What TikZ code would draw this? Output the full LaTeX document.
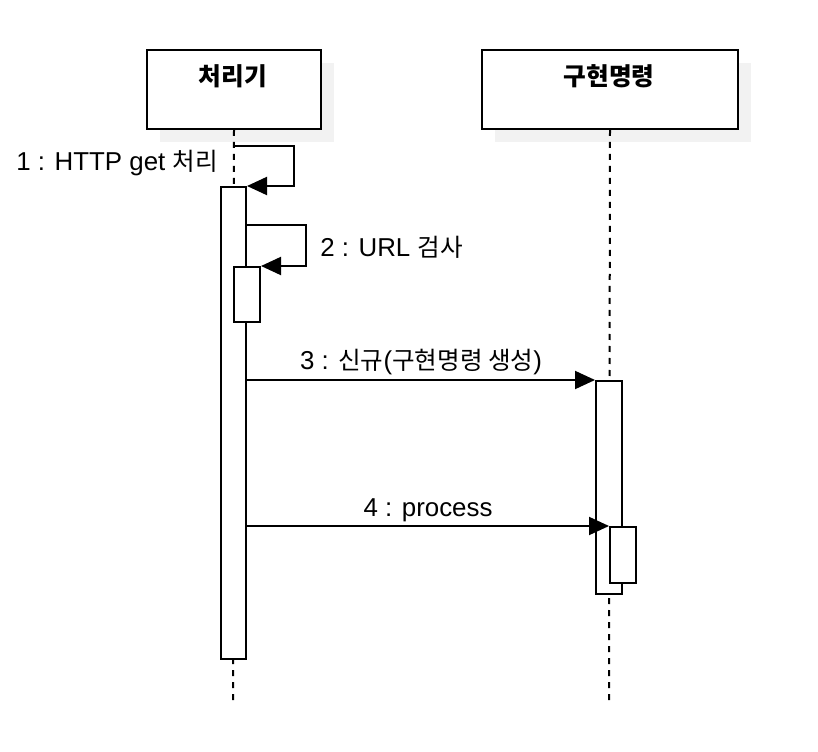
\documentclass[tikz,border=0pt]{standalone}
\usepackage{fontspec}
\setmainfont{Liberation Sans}
\newfontfamily\kr{Noto Sans CJK KR}[Scale=0.95]
\usetikzlibrary{arrows.meta}
\definecolor{shadowgray}{HTML}{F2F2F2}
\begin{document}
\begin{tikzpicture}[x=0.75pt,y=-0.75pt,
  objbox/.style={draw, line width=1.5pt, fill=white, anchor=north west, inner sep=0pt, minimum height=59.25pt},
  shadowbox/.style={fill=shadowgray, draw=none, anchor=north west, inner sep=0pt, minimum height=59.25pt},
  actbox/.style={draw, line width=1.5pt, fill=white, anchor=north, inner sep=0pt, minimum width=19pt},
  lifeline/.style={line width=1.5pt, dash pattern=on 4.5pt off 4.5pt},
  msg/.style={line width=1.5pt, -{Triangle[length=15pt,width=13.5pt]}},
  lbl/.style={font=\fontsize{19.4}{22}\selectfont, inner sep=0pt},
  ttl/.style={font=\fontsize{19.5}{22}\selectfont\kr\bfseries, inner sep=0pt}
]
\useasboundingbox (0,0) rectangle (818,752);
% shadows
\node[shadowbox, minimum width=130.5pt] (sh1) at (160,63) {};
\node[shadowbox, minimum width=192pt] (sh2) at (495,63) {};
% object boxes
\node[objbox, minimum width=130.5pt] (box1) at (146,49) {};
\node[objbox, minimum width=192pt] (box2) at (481,49) {};
\node[ttl] (t1) at (233,76) {처리기};
\node[ttl] (t2) at (609,76) {구현명령};
% lifelines
\coordinate (l1end) at (233,700);
\coordinate (l2end) at (609,700);
\draw[lifeline] (box1.south) -- (l1end);
\draw[lifeline] (box2.south) -- (l2end);
% activations
\node[actbox, minimum width=18.75pt, minimum height=354pt] (a1) at (233.5,186) {};
\node[actbox, minimum width=19.5pt, minimum height=41.25pt] (a2) at (247,266) {};
\node[actbox, minimum width=19.5pt, minimum height=159.75pt] (a3) at (609,380) {};
\node[actbox, minimum width=19.5pt, minimum height=42pt] (a4) at (623,526) {};
% messages
\coordinate (m1a) at (233,146);
\coordinate (m1b) at (294,186);
\draw[msg] (m1a) -| (m1b) -- (a1.north east);
\coordinate (m2a) at (a1.east |- 0,225);
\coordinate (m2b) at (306,266);
\draw[msg] (m2a) -| (m2b) -- (a2.north east);
\coordinate (m3a) at (a1.east |- 0,380);
\draw[msg] (m3a) -- (a3.north west);
\coordinate (m4a) at (a1.east |- 0,526);
\draw[msg] (m4a) -- (a4.north west);
% labels
\node[lbl, anchor=east] (lab1) at (218,163) {1 : HTTP get {\kr 처리}};
\node[lbl, anchor=west] (lab2) at (320,247) {2 : URL {\kr 검사}};
\node[lbl] (lab3) at (421,362) {3 : {\kr 신규}({\kr 구현명령 생성})};
\node[lbl] (lab4) at (428,510) {4 : process};
\end{tikzpicture}
\end{document}
